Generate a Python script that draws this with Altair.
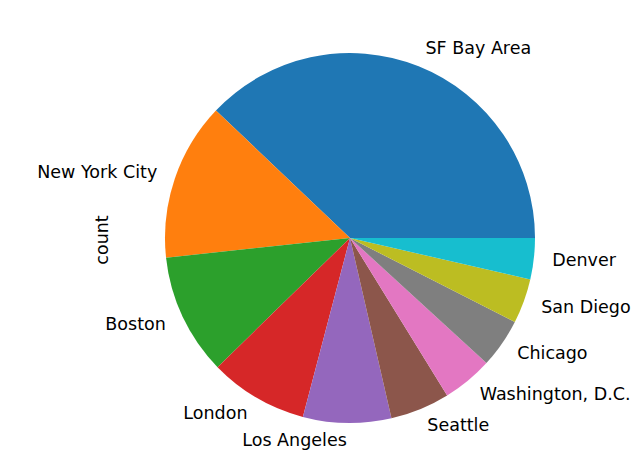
import math
import altair as alt
import pandas as pd

cities = ["SF Bay Area", "New York City", "Boston", "London", "Los Angeles",
          "Seattle", "Washington, D.C.", "Chicago", "San Diego", "Denver"]
counts = [379, 138, 106, 86, 77, 52, 44, 43, 39, 36]
colors = ["#1f77b4", "#ff7f0e", "#2ca02c", "#d62728", "#9467bd",
          "#8c564b", "#e377c2", "#7f7f7f", "#bcbd22", "#17becf"]

df = pd.DataFrame({"city": cities, "count": counts, "idx": list(range(len(cities)))})

CX, CY, R = 342, 230, 185
FONT = "DejaVu Sans"
FS = 17.5

theta_scale = alt.Scale(range=[math.pi / 2, math.pi / 2 - 2 * math.pi])

base = alt.Chart(df).transform_window(
    cum="sum(count)", sort=[{"field": "idx"}]
).transform_joinaggregate(
    total="sum(count)"
).transform_calculate(
    mid="(datum.cum - datum.count / 2) / datum.total * 2 * PI",
    side="cos(datum.mid) < 0 ? 'right' : 'left'"
).encode(
    theta=alt.Theta("count:Q", stack=True, scale=theta_scale),
    order=alt.Order("idx:Q"),
    x=alt.value(CX),
    y=alt.value(CY),
)

arcs = base.mark_arc(outerRadius=R).encode(
    color=alt.Color("city:N", scale=alt.Scale(domain=cities, range=colors), legend=None)
)

labels_left = base.mark_text(radius=R * 1.1, align="left", baseline="middle",
                             font=FONT, fontSize=FS, color="black").encode(
    text=alt.condition("datum.side == 'left'", alt.Text("city:N"), alt.value(""))
)
labels_right = base.mark_text(radius=R * 1.1, align="right", baseline="middle",
                              font=FONT, fontSize=FS, color="black").encode(
    text=alt.condition("datum.side == 'right'", alt.Text("city:N"), alt.value(""))
)

ylabel = alt.Chart(pd.DataFrame({"t": ["count"]})).mark_text(
    angle=270, font=FONT, fontSize=FS, color="black", align="center", baseline="middle"
).encode(text="t:N", x=alt.value(95), y=alt.value(232))

chart = alt.layer(arcs, labels_left, labels_right, ylabel).properties(
    width=625, height=451, padding=0, autosize=alt.AutoSizeParams(type="none")
).configure_view(stroke=None)

chart.save("out.html", embed_options={"renderer": "svg", "actions": False})
